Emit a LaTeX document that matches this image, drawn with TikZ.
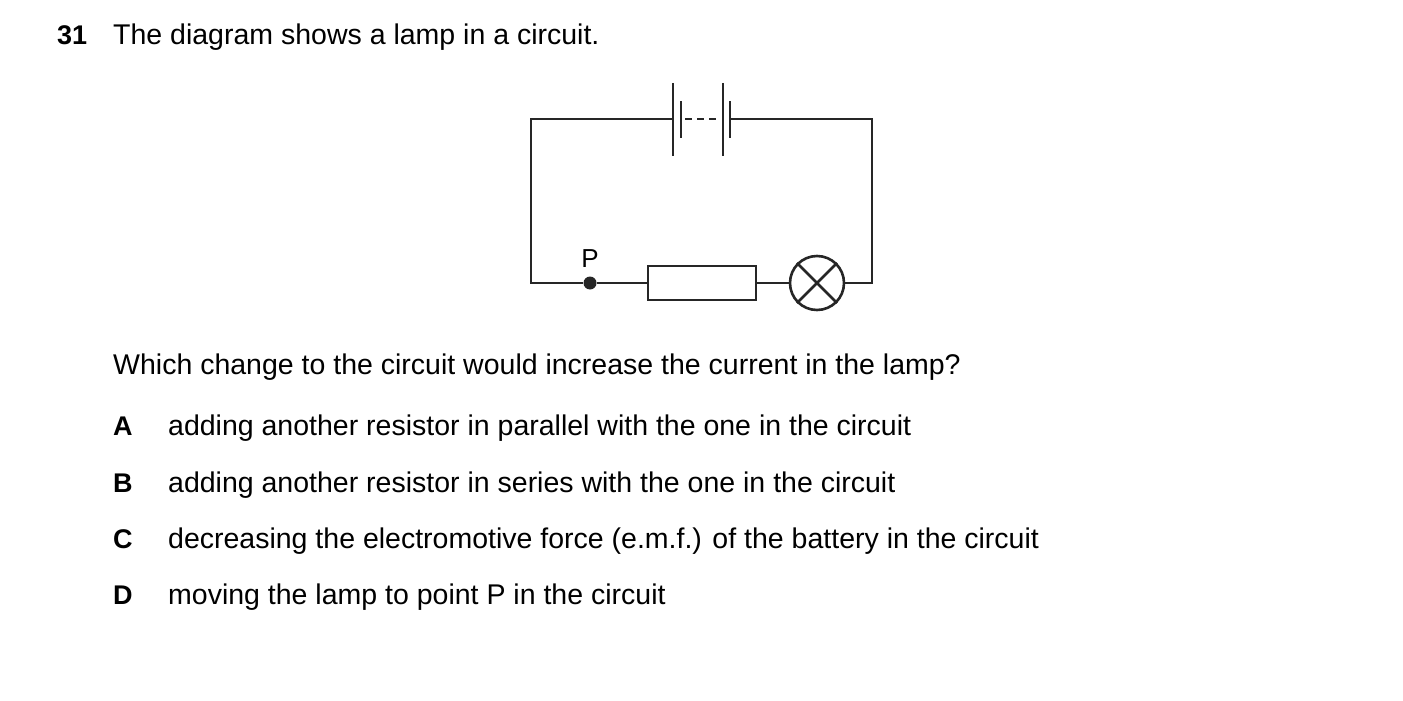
\documentclass[tikz,border=0pt]{standalone}
\usepackage{fontspec}
\setmainfont{Liberation Sans}
\usetikzlibrary{positioning}
\begin{document}
\begin{tikzpicture}[x=1pt, y=-1pt,
wire/.style={line width=2.6pt, black!85},
txt/.style={anchor=base west, inner sep=0pt, font=\fontsize{28.5}{32}\selectfont},
bold/.style={txt, font=\fontsize{27}{32}\selectfont\bfseries},
]
\useasboundingbox (0,0) rectangle (1403,701);
%Text
\node[bold] (num) at (57,45) {31};
\node[txt]  (q)   at (113,45) {The diagram shows a lamp in a circuit.};
\node[txt]  (ask) at (113,374) {Which change to the circuit would increase the current in the lamp?};
\node[bold] (A) at (113,435) {A};
\node[txt]  (a) at (168,435) {adding another resistor in parallel with the one in the circuit};
\node[bold] (B) at (113,492) {B};
\node[txt]  (b) at (168,492) {adding another resistor in series with the one in the circuit};
\node[bold] (C) at (113,548) {C};
\node[txt]  (c) at (168,548) {decreasing the electromotive force (e.m.f.) of the battery in the circuit};
\node[bold] (D) at (113,604) {D};
\node[txt]  (d) at (168,604) {moving the lamp to point P in the circuit};
%Circuit corners
\coordinate (TL) at (531,119);
\coordinate (TR) at (872,119);
\coordinate (BL) at (531,283);
\coordinate (BR) at (872,283);
\coordinate (bat1) at (673,119);
\coordinate (bat2) at (730,119);
\node[circle, fill=black!85, inner sep=0pt, minimum size=13pt] (P) at (590,283) {};
\node[txt, anchor=south, font=\fontsize{26}{30}\selectfont] (Plabel) at (590,268) {P};
\node[draw, line width=2.6pt, black!85, minimum width=108pt, minimum height=34pt, inner sep=0pt] (R) at (702,283) {};
\node[draw, circle, line width=2.6pt, black!85, minimum size=54pt, inner sep=0pt] (L) at (817,283) {};
%Battery
\draw[wire] (673,83) -- (673,156);
\draw[wire] (681,101) -- (681,138);
\draw[wire, dash pattern=on 7pt off 5pt] (685,119) -- (720,119);
\draw[wire] (723,83) -- (723,156);
\draw[wire] (730,101) -- (730,138);
%Wires
\draw[wire] (bat1) -- (TL) -- (BL) -- (P) -- (R.west);
\draw[wire] (bat2) -- (TR) -- (BR) -- (L.east);
\draw[wire] (R.east) -- (L.west);
\draw[wire] (L.45) -- (L.225);
\draw[wire] (L.135) -- (L.315);
\end{tikzpicture}
\end{document}
